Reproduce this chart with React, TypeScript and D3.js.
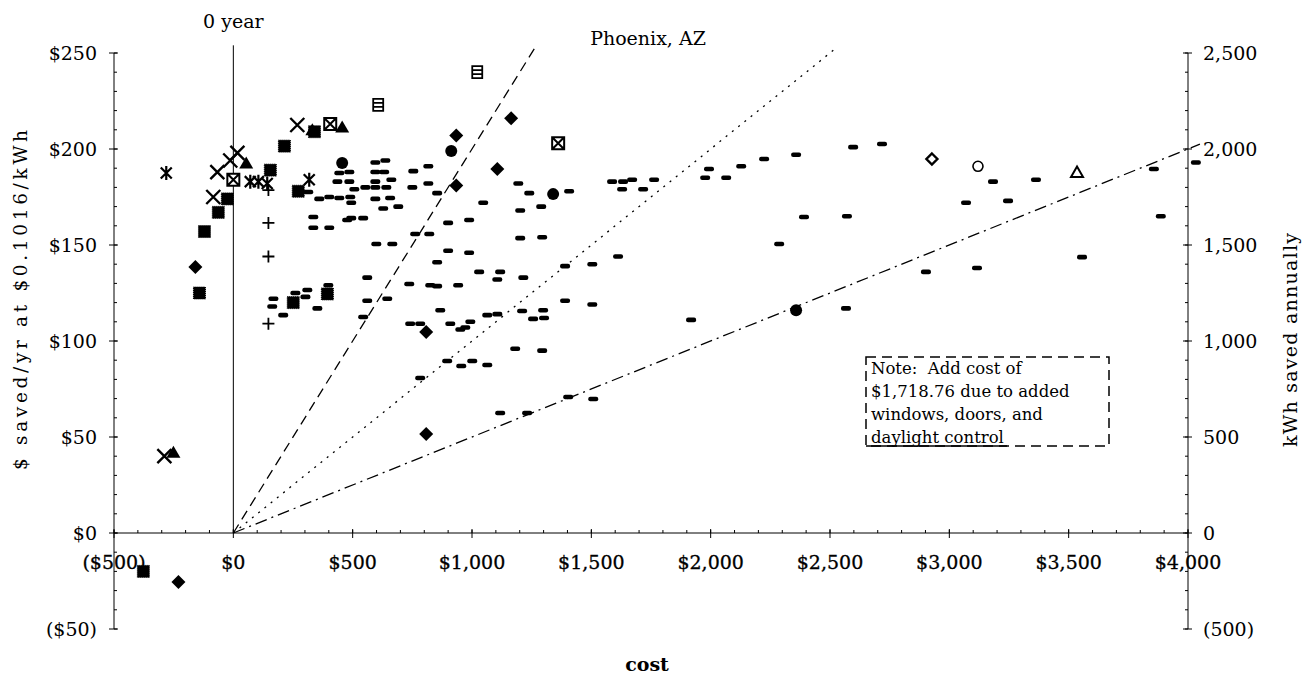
import React from 'react';
import * as d3 from 'd3';

// [cost $, saved $/yr]
const dashPoints: [number, number][] = [
  [168, 122], [163, 118], [209, 113.5], [260, 125], [310, 126.6], [302, 123], [352, 117], [398, 129],
  [314, 177.6], [360, 174], [402, 175], [444, 174.5], [490, 175], [494, 172],
  [444, 187.5], [486, 188], [436, 183], [486, 183], [507, 179], [553, 180], [595, 180], [595, 183],
  [641, 180], [662, 184], [595, 193], [637, 194], [595, 188], [632, 188], [595, 174], [657, 174.5],
  [628, 169], [691, 170], [335, 164.6], [335, 159], [402, 159], [477, 163], [494, 164], [544, 164],
  [754, 188.5], [817, 191], [750, 180], [817, 182], [854, 177], [599, 150.5], [666, 150.5],
  [762, 155.7], [821, 155.7], [900, 161.5], [988, 163], [1047, 172],
  [1194, 182], [1240, 177], [1202, 168], [1290, 170], [1202, 153.6], [1294, 154],
  [900, 147], [988, 146], [854, 141], [561, 133],
  [737, 129.7], [825, 129], [854, 128.6], [942, 129],
  [1030, 136], [1118, 136], [1106, 132], [1215, 133],
  [561, 121], [645, 122], [867, 116], [544, 112.5], [741, 109], [783, 109],
  [909, 109], [951, 106], [972, 107], [993, 110], [1064, 113.5], [1106, 114],
  [1210, 115.6], [1256, 111.5], [1302, 112], [1298, 116],
  [1390, 121], [1504, 119], [1390, 139], [1504, 140], [1612, 144],
  [1407, 178], [1587, 183], [1633, 183], [1671, 184], [1763, 184], [1629, 179], [1717, 179],
  [1993, 189.6], [1977, 185], [2065, 185], [2128, 191], [2224, 194.8], [2358, 197],
  [2597, 201], [2718, 202.6], [2391, 164.6], [2571, 165], [2287, 150.5],
  [1918, 111], [2567, 117], [1181, 96], [1294, 95], [1403, 70.8], [1508, 69.8],
  [1118, 62.5], [1231, 62.5], [896, 89.6], [955, 87], [1001, 89.6], [1064, 87.5], [783, 80.7],
  [2902, 136], [3116, 138], [3556, 143.7], [3070, 172], [3246, 173], [3183, 183], [3363, 184],
  [3857, 189.6], [3886, 165], [4033, 193],
];
const squarePoints: [number, number][] = [
  [-377, -20], [-142, 125], [-121, 157], [-63, 167], [-25, 174], [155, 189], [214, 201.5],
  [340, 209], [251, 120], [394, 124.5], [272, 178],
];
const diamondPoints: [number, number][] = [
  [-230, -25.5], [-159, 138.5], [808, 51.6], [808, 104.7], [934, 181], [934, 207], [1106, 189.6], [1164, 216],
];
const circlePoints: [number, number][] = [[456, 192.7], [913, 199], [1340, 176.5], [2358, 116]];
const crossPoints: [number, number][] = [
  [-289, 40], [17, 198], [-13, 194], [-67, 188], [-84, 175], [268, 212.5],
];
const starPoints: [number, number][] = [[-281, 187.5], [71, 183], [105, 183], [142, 182], [318, 184]];
const plusPoints: [number, number][] = [[147, 178.6], [147, 161.5], [147, 144], [147, 109]];
const trianglePoints: [number, number][] = [[-251, 42], [54, 192.7], [456, 211.5], [331, 210]];
const barredSquarePoints: [number, number][] = [[607, 223], [1022, 240]];
const xSquarePoints: [number, number][] = [[0, 184], [406, 213], [1361, 203]];
const openDiamondPoints: [number, number][] = [[2927, 194.8]];
const openCirclePoints: [number, number][] = [[3120, 191]];
const openTrianglePoints: [number, number][] = [[3535, 188]];

const paybackYears = [5, 10, 20];
const costTicks = [-500, 0, 500, 1000, 1500, 2000, 2500, 3000, 3500, 4000];
const dollarTicks = [-50, 0, 50, 100, 150, 200, 250];
const kwhTicks = [-500, 0, 500, 1000, 1500, 2000, 2500];

const noteLines = ['Note:\u00a0 Add cost of', '$1,718.76 due to added', 'windows, doors, and', 'daylight control'];

const FONT = '"DejaVu Serif", serif';

const money = (v: number) => (v < 0 ? `($${d3.format(',')(-v)})` : `$${d3.format(',')(v)}`);
const plain = (v: number) => (v < 0 ? `(${d3.format(',')(-v)})` : d3.format(',')(v));

export default function App() {
  const x = d3.scaleLinear().domain([-500, 4000]).range([114, 1188]);
  const y = d3.scaleLinear().domain([-50, 250]).range([629, 53]);
  const yR = d3.scaleLinear().domain([-500, 2500]).range([629, 53]);

  const line = d3.line<[number, number]>().x((d) => x(d[0])).y((d) => y(d[1]));
  const dashStyles = ['10,6', '2,6', '12,5,2,5'];

  const minorX = d3.range(-500, 4001, 100);
  const minorY = d3.range(-50, 251, 10);
  const minorR = d3.range(-500, 2501, 100);

  const at = (p: [number, number]) => `translate(${x(p[0])},${y(p[1])})`;

  return (
    <div style={{ position: 'absolute', left: 0, top: 0 }}>
      <svg width={1313} height={675} style={{ display: 'block', background: '#fff' }} fontFamily={FONT}>
        <rect width={1313} height={675} fill="#fff" />

        {/* axes */}
        <g stroke="#000" strokeWidth={1} fill="none">
          <line x1={x(-500)} x2={x(-500)} y1={y(250)} y2={y(-50)} />
          <line x1={x(-500)} x2={x(4000)} y1={y(0)} y2={y(0)} />
          <line x1={x(4000)} x2={x(4000)} y1={yR(2500)} y2={yR(-500)} />
          {minorY.map((v) => (
            <line key={'my' + v} x1={x(-500)} x2={x(-500) + 3} y1={y(v)} y2={y(v)} />
          ))}
          {dollarTicks.map((v) => (
            <line key={'ty' + v} x1={x(-500) - 5} x2={x(-500) + 4} y1={y(v)} y2={y(v)} />
          ))}
          {minorX.map((v) => (
            <line key={'mx' + v} x1={x(v)} x2={x(v)} y1={y(0) - 3} y2={y(0)} />
          ))}
          {costTicks.map((v) => (
            <line key={'tx' + v} x1={x(v)} x2={x(v)} y1={y(0) - 4} y2={y(0) + 5} />
          ))}
          {minorR.map((v) => (
            <line key={'mr' + v} x1={x(4000) - 3} x2={x(4000)} y1={yR(v)} y2={yR(v)} />
          ))}
          {kwhTicks.map((v) => (
            <line key={'tr' + v} x1={x(4000) - 5} x2={x(4000) + 4} y1={yR(v)} y2={yR(v)} />
          ))}
          {/* 0 year line */}
          <line x1={x(0)} x2={x(0)} y1={y(254)} y2={y(0)} />
        </g>

        {/* payback lines */}
        {paybackYears.map((yr, i) => {
          const endSave = Math.min(253, 4050 / yr);
          return (
            <path
              key={yr}
              d={line([[0, 0], [endSave * yr, endSave]]) || ''}
              fill="none"
              stroke="#000"
              strokeWidth={1.3}
              strokeDasharray={dashStyles[i]}
            />
          );
        })}

        {/* tick labels */}
        <g fontSize={19} fill="#000">
          {dollarTicks.map((v) => (
            <text key={'ly' + v} x={97} y={y(v)} dy="0.35em" textAnchor="end">{money(v)}</text>
          ))}
          {costTicks.map((v) => (
            <text key={'lx' + v} x={x(v)} y={569} textAnchor="middle" stroke="#000" strokeWidth={0.3}>{money(v)}</text>
          ))}
          {kwhTicks.map((v) => (
            <text key={'lr' + v} x={1203} y={yR(v)} dy="0.35em" textAnchor="start">{plain(v)}</text>
          ))}
        </g>

        {/* titles */}
        <text x={x(0)} y={28} fontSize={19} textAnchor="middle">0 year</text>
        <text x={648} y={45} fontSize={19} textAnchor="middle">Phoenix, AZ</text>
        <text x={647} y={671} fontSize={19} fontWeight="bold" textAnchor="middle">cost</text>
        <text
          transform="translate(27,300) rotate(-90)"
          fontSize={18.5}
          textAnchor="middle"
          textLength={340}
          lengthAdjust="spacing"
        >
          $ saved/yr at $0.1016/kWh
        </text>
        <text
          transform="translate(1297,340) rotate(-90)"
          fontSize={19}
          textAnchor="middle"
          textLength={214}
          lengthAdjust="spacing"
        >
          kWh saved annually
        </text>

        {/* note box */}
        <rect x={866} y={357} width={243} height={89} fill="#fff" stroke="#000" strokeWidth={1.5} strokeDasharray="10,6" />
        <line x1={866} x2={1007} y1={446} y2={446} stroke="#000" strokeWidth={1.5} />
        <g fontSize={16.5}>
          {noteLines.map((t, i) => (
            <text key={i} x={871} y={374 + i * 23}>{t}</text>
          ))}
        </g>

        {/* markers */}
        <g fill="#000">
          {dashPoints.map((p, i) => (
            <rect key={'d' + i} transform={at(p)} x={-5} y={-2.3} width={10} height={4.6} rx={2} />
          ))}
          {squarePoints.map((p, i) => (
            <rect key={'s' + i} transform={at(p)} x={-6} y={-6} width={12} height={12}
              stroke="#000" strokeWidth={1} strokeDasharray="1,1" />
          ))}
          {diamondPoints.map((p, i) => (
            <path key={'dm' + i} transform={at(p)} d="M0,-7L7,0L0,7L-7,0Z" />
          ))}
          {circlePoints.map((p, i) => (
            <circle key={'c' + i} transform={at(p)} r={6} />
          ))}
          {trianglePoints.map((p, i) => (
            <path key={'t' + i} transform={at(p)} d="M0,-6.5L7,5.5L-7,5.5Z" />
          ))}
        </g>
        <g fill="none" stroke="#000">
          {crossPoints.map((p, i) => (
            <path key={'x' + i} transform={at(p)} d="M-7,-7L7,7M7,-7L-7,7" strokeWidth={2.4} />
          ))}
          {starPoints.map((p, i) => (
            <path key={'st' + i} transform={at(p)} d="M-5.5,-5.5L5.5,5.5M5.5,-5.5L-5.5,5.5M0,-7L0,7" strokeWidth={2.2} />
          ))}
          {plusPoints.map((p, i) => (
            <path key={'p' + i} transform={at(p)} d="M-6,0L6,0M0,-6L0,6" strokeWidth={1.8} />
          ))}
          {barredSquarePoints.map((p, i) => (
            <path key={'b' + i} transform={at(p)} d="M-5,-6H5V6H-5ZM-5,-2H5M-5,2H5" strokeWidth={1.8} fill="#fff" />
          ))}
          {xSquarePoints.map((p, i) => (
            <path key={'xs' + i} transform={at(p)} d="M-6,-6H6V6H-6ZM-6,-6L6,6M6,-6L-6,6" strokeWidth={2} fill="#fff" />
          ))}
          {openDiamondPoints.map((p, i) => (
            <path key={'od' + i} transform={at(p)} d="M0,-5.5L5.5,0L0,5.5L-5.5,0Z" strokeWidth={2.4} />
          ))}
          {openCirclePoints.map((p, i) => (
            <circle key={'oc' + i} transform={at(p)} r={5} strokeWidth={1.6} />
          ))}
          {openTrianglePoints.map((p, i) => (
            <path key={'ot' + i} transform={at(p)} d="M0,-5.5L6,5L-6,5Z" strokeWidth={2} />
          ))}
        </g>
      </svg>
    </div>
  );
}
